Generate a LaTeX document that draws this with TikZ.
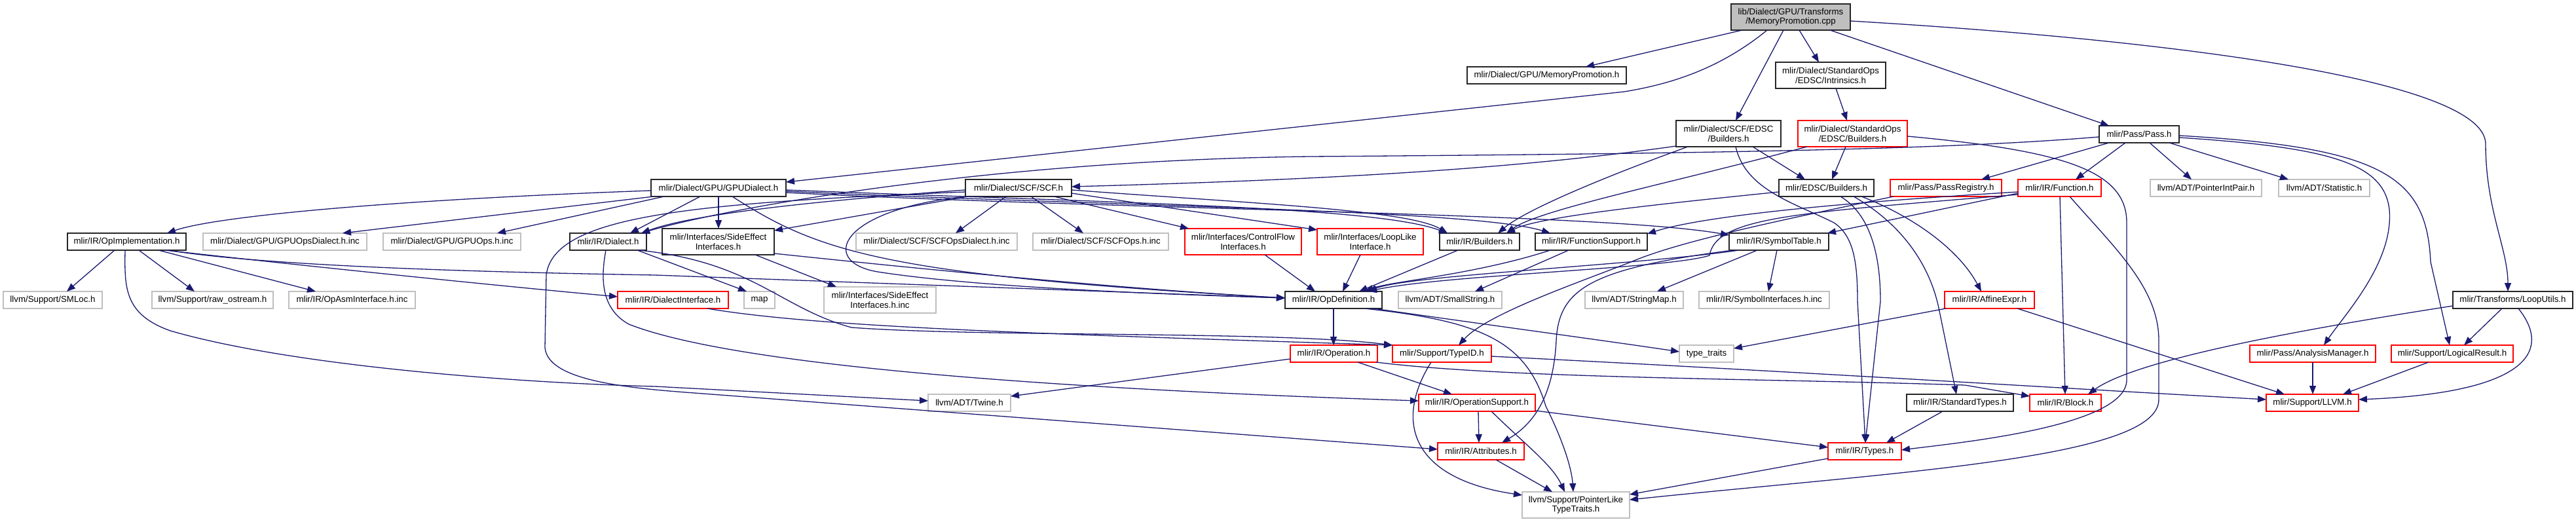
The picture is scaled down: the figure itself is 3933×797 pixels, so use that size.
\documentclass[tikz,border=0pt]{standalone}
\usepackage{fontspec}
\setmainfont{Liberation Sans}
\usetikzlibrary{arrows.meta}
\definecolor{edgeblue}{RGB}{25,25,112}
\definecolor{dgrey}{RGB}{191,191,191}
\definecolor{nred}{RGB}{255,0,0}
\tikzset{
  nd/.style={draw=black!85, line width=1.4pt, fill=white, anchor=north west, inner sep=0pt, outer sep=0pt,
    align=center, font=\fontsize{13.3}{14.5}\selectfont, text=black, minimum height=26pt},
  tall/.style={minimum height=40pt},
  ndred/.style={nd, draw=nred},
  ndgrey/.style={nd, draw=dgrey},
  ndroot/.style={nd, fill=dgrey},
  lk/.style={draw=edgeblue, line width=1.3pt, -{Triangle[length=13pt,width=10pt]}},
}
\begin{document}
\begin{tikzpicture}[x=1pt,y=-1pt]
\fill[white] (0,0) rectangle (3933,797);
\useasboundingbox (0,0) rectangle (3933,797);

% ---------- nodes ----------
\node[ndroot, tall, minimum width=182pt] (root) at (2643,6) {lib/Dialect/GPU/Transforms\\/MemoryPromotion.cpp};
\node[nd, minimum width=243pt] (mp) at (2240,102) {mlir/Dialect/GPU/MemoryPromotion.h};
\node[nd, tall, minimum width=168pt] (intr) at (2711,95) {mlir/Dialect/StandardOps\\/EDSC/Intrinsics.h};
\node[nd, tall, minimum width=160pt] (scfedsc) at (2559,184) {mlir/Dialect/SCF/EDSC\\/Builders.h};
\node[ndred, tall, minimum width=167pt] (stdedsc) at (2745,184) {mlir/Dialect/StandardOps\\/EDSC/Builders.h};
\node[nd, minimum width=122pt] (pass) at (3205,192) {mlir/Pass/Pass.h};
\node[nd, minimum width=206pt] (gpud) at (994,274) {mlir/Dialect/GPU/GPUDialect.h};
\node[nd, minimum width=162pt] (scf) at (1474,274) {mlir/Dialect/SCF/SCF.h};
\node[nd, minimum width=145pt] (edscb) at (2716,274) {mlir/EDSC/Builders.h};
\node[ndred, minimum width=170pt] (passreg) at (2886,274) {mlir/Pass/PassRegistry.h};
\node[ndred, minimum width=127pt] (func) at (3081,274) {mlir/IR/Function.h};
\node[ndgrey, minimum width=170pt] (pip) at (3283,274) {llvm/ADT/PointerIntPair.h};
\node[ndgrey, minimum width=139pt] (stat) at (3479,274) {llvm/ADT/Statistic.h};
\node[nd, minimum width=181pt] (opimpl) at (103,356) {mlir/IR/OpImplementation.h};
\node[ndgrey, minimum width=250pt] (gpuod) at (310,356) {mlir/Dialect/GPU/GPUOpsDialect.h.inc};
\node[ndgrey, minimum width=210pt] (gpuops) at (585,356) {mlir/Dialect/GPU/GPUOps.h.inc};
\node[nd, minimum width=117pt] (dialect) at (870,356) {mlir/IR/Dialect.h};
\node[nd, tall, minimum width=171pt] (sei) at (1011,349) {mlir/Interfaces/SideEffect\\Interfaces.h};
\node[ndgrey, minimum width=246pt] (scfod) at (1307,356) {mlir/Dialect/SCF/SCFOpsDialect.h.inc};
\node[ndgrey, minimum width=207pt] (scfops) at (1577,356) {mlir/Dialect/SCF/SCFOps.h.inc};
\node[ndred, tall, minimum width=178pt] (cfi) at (1809,349) {mlir/Interfaces/ControlFlow\\Interfaces.h};
\node[ndred, tall, minimum width=162pt] (lli) at (2011,349) {mlir/Interfaces/LoopLike\\Interface.h};
\node[nd, minimum width=122pt] (irb) at (2198,356) {mlir/IR/Builders.h};
\node[nd, minimum width=171pt] (fsup) at (2344,356) {mlir/IR/FunctionSupport.h};
\node[nd, minimum width=152pt] (symt) at (2640,356) {mlir/IR/SymbolTable.h};
\node[ndgrey, minimum width=151pt] (smloc) at (5,445) {llvm/Support/SMLoc.h};
\node[ndgrey, minimum width=185pt] (rawos) at (232,445) {llvm/Support/raw\_ostream.h};
\node[ndgrey, minimum width=193pt] (opasm) at (441,445) {mlir/IR/OpAsmInterface.h.inc};
\node[ndred, minimum width=169pt] (diaint) at (943,445) {mlir/IR/DialectInterface.h};
\node[ndgrey, minimum width=47pt] (map) at (1136,445) {map};
\node[ndgrey, tall, minimum width=171pt] (seiinc) at (1258,438) {mlir/Interfaces/SideEffect\\Interfaces.h.inc};
\node[nd, minimum width=148pt] (opdef) at (1962,445) {mlir/IR/OpDefinition.h};
\node[ndgrey, minimum width=158pt] (smallstr) at (2135,445) {llvm/ADT/SmallString.h};
\node[ndgrey, minimum width=150pt] (strmap) at (2420,445) {llvm/ADT/StringMap.h};
\node[ndgrey, minimum width=199pt] (syminc) at (2594,445) {mlir/IR/SymbolInterfaces.h.inc};
\node[ndred, minimum width=137pt] (affine) at (2969,445) {mlir/IR/AffineExpr.h};
\node[nd, minimum width=183pt] (loopu) at (3745,445) {mlir/Transforms/LoopUtils.h};
\node[ndred, minimum width=133pt] (oper) at (1970,527) {mlir/IR/Operation.h};
\node[ndred, minimum width=151pt] (typeid) at (2126,527) {mlir/Support/TypeID.h};
\node[ndgrey, minimum width=83pt] (ttraits) at (2564,527) {type\_traits};
\node[ndred, minimum width=192pt] (anam) at (3435,527) {mlir/Pass/AnalysisManager.h};
\node[ndred, minimum width=186pt] (logres) at (3651,527) {mlir/Support/LogicalResult.h};
\node[ndgrey, minimum width=126pt] (twine) at (1417,602) {llvm/ADT/Twine.h};
\node[ndred, minimum width=178pt] (opsup) at (2166,602) {mlir/IR/OperationSupport.h};
\node[nd, minimum width=163pt] (stdtypes) at (2911,602) {mlir/IR/StandardTypes.h};
\node[ndred, minimum width=109pt] (block) at (3099,602) {mlir/IR/Block.h};
\node[ndred, minimum width=141pt] (llvm) at (3460,602) {mlir/Support/LLVM.h};
\node[ndred, minimum width=132pt] (attr) at (2195,676) {mlir/IR/Attributes.h};
\node[ndred, minimum width=112pt] (types) at (2791,676) {mlir/IR/Types.h};
\node[ndgrey, tall, minimum width=164pt] (plt) at (2324,751) {llvm/Support/PointerLike\\TypeTraits.h};

% ---------- edges ----------
% root
\draw[lk] ([xshift=17pt]root.south west) -- ([xshift=181pt]mp.north west);
\draw[lk] ([xshift=55pt]root.south west) .. controls (2620,110) and (2540,130) .. (2480,140) -- ([yshift=-4pt]gpud.north east);
\draw[lk] ([xshift=80pt]root.south west) -- ([xshift=91pt]scfedsc.north west);
\draw[lk] ([xshift=104pt]root.south west) -- ([xshift=66pt]intr.north west);
\draw[lk] ([xshift=151pt]root.south west) -- ([xshift=15pt]pass.north west);
\draw[lk] ([yshift=-26pt]root.north east) .. controls (3300,60) and (3795,120) .. (3795,220) .. controls (3795,320) and (3829,380) .. ([xshift=84pt]loopu.north west);
% GPUDialect
\draw[lk] ([yshift=-17pt]gpud.north west) .. controls (600,305) and (330,330) .. ([xshift=152pt]opimpl.north west);
\draw[lk] ([xshift=4pt]gpud.south west) -- ([xshift=213pt]gpuod.north west);
\draw[lk] ([xshift=20pt]gpud.south west) -- ([xshift=174pt]gpuops.north west);
\draw[lk] ([xshift=75pt]gpud.south west) -- ([xshift=92pt]dialect.north west);
\draw[lk] ([xshift=103pt]gpud.south west) -- ([xshift=86pt]sei.north west);
\draw[lk] ([xshift=124pt]gpud.south west) .. controls (1250,385) and (1350,420) .. ([yshift=-10pt]opdef.north west);
\draw[lk] ([yshift=-16pt]gpud.north east) .. controls (1700,310) and (2100,315) .. ([xshift=12pt]irb.north west);
\draw[lk] ([yshift=-18pt]gpud.north east) .. controls (1700,315) and (2250,320) .. ([xshift=23pt]fsup.north west);
\draw[lk] ([yshift=-20pt]gpud.north east) .. controls (1700,320) and (2450,325) .. ([yshift=-3pt]symt.north west);
% SCF.h
\draw[lk] ([xshift=62pt]scf.south west) -- ([xshift=152pt]scfod.north west);
\draw[lk] ([xshift=100pt]scf.south west) -- ([xshift=77pt]scfops.north west);
\draw[lk] ([xshift=135pt]scf.south west) -- ([xshift=6pt]cfi.north west);
\draw[lk] ([yshift=-21pt]scf.north east) -- ([yshift=-2pt]lli.north west);
\draw[lk] ([xshift=4pt]scf.south west) -- ([yshift=-3pt]sei.north east);
\draw[lk] ([yshift=-16pt]scf.north west) .. controls (1200,310) and (1050,330) .. ([xshift=109pt]dialect.north west);
\draw[lk] ([xshift=1pt]scf.south west) .. controls (1280,320) and (1250,400) .. (1340,415) .. controls (1500,440) and (1800,450) .. ([yshift=-10pt]opdef.north west);
\draw[lk] ([yshift=-19pt]scf.north west) .. controls (1050,310) and (845,330) .. (834,420) -- (832,530) .. controls (835,580) and (950,592) .. (1060,600) -- ([yshift=-10pt]attr.north west);
\draw[lk] ([yshift=-16pt]scf.north east) .. controls (1900,310) and (2150,320) .. ([xshift=12pt]irb.north west);
% SCF/EDSC/Builders.h
\draw[lk] ([yshift=1pt]scfedsc.south west) .. controls (2300,260) and (2000,275) .. ([yshift=-11pt]scf.north east);
\draw[lk] ([xshift=117pt]scfedsc.south west) -- ([xshift=40pt]edscb.north west);
\draw[lk] ([xshift=18pt]scfedsc.south west) .. controls (2450,270) and (2330,320) .. ([xshift=89pt]irb.north west);
\draw[lk] ([xshift=91pt]scfedsc.south west) .. controls (2665,290) and (2740,310) .. (2800,340) .. controls (2830,360) and (2836,400) .. (2836,460) -- ([xshift=57pt]types.north west);
% Intrinsics / StandardOps EDSC
\draw[lk] ([xshift=92pt]intr.south west) -- ([xshift=75pt]stdedsc.north west);
\draw[lk] ([xshift=73pt]stdedsc.south west) -- ([xshift=81pt]edscb.north west);
\draw[lk] ([xshift=14pt]stdedsc.south west) .. controls (2550,280) and (2350,320) .. ([xshift=102pt]irb.north west);
\draw[lk] ([yshift=-24pt]stdedsc.north east) .. controls (3150,230) and (3247,260) .. (3247,340) -- (3247,580) .. controls (3247,650) and (3000,675) .. ([yshift=-11pt]types.north east);
% EDSC/Builders.h
\draw[lk] ([yshift=-19pt]edscb.north west) .. controls (2550,310) and (2350,330) .. ([xshift=102pt]irb.north west);
\draw[lk] ([xshift=94pt]edscb.south west) .. controls (2860,330) and (2871,400) .. (2871,460) -- ([xshift=57pt]types.north west);
\draw[lk] ([xshift=114pt]edscb.south west) .. controls (2900,340) and (2945,400) .. (2960,470) -- ([xshift=76pt]stdtypes.north west);
\draw[lk] ([xshift=126pt]edscb.south west) .. controls (2920,330) and (2990,380) .. ([xshift=56pt]affine.north west);
% Pass.h
\draw[lk] ([xshift=15pt]pass.south west) -- ([xshift=139pt]passreg.north west);
\draw[lk] ([xshift=40pt]pass.south west) -- ([xshift=88pt]func.north west);
\draw[lk] ([xshift=77pt]pass.south west) -- ([xshift=63pt]pip.north west);
\draw[lk] ([xshift=107pt]pass.south west) -- ([xshift=15pt]stat.north west);
\draw[lk] ([yshift=-18pt]pass.north east) .. controls (3560,225) and (3640,250) .. (3648,320) .. controls (3655,400) and (3580,480) .. ([xshift=113pt]anam.north west);
\draw[lk] ([yshift=-15pt]pass.north east) .. controls (3640,225) and (3705,270) .. (3711,400) -- ([xshift=89pt]logres.north west);
\draw[lk] ([yshift=-17pt]pass.north west) .. controls (3000,226) and (2700,234) .. (2000,239) .. controls (1500,245) and (1100,320) .. ([xshift=109pt]dialect.north west);
% PassRegistry.h
\draw[lk] ([xshift=5pt]passreg.south west) .. controls (2700,340) and (2560,370) .. (2490,400) .. controls (2400,435) and (2270,480) .. ([xshift=101pt]typeid.north west);
% Function.h
\draw[lk] ([yshift=-19pt]func.north west) .. controls (2800,310) and (2600,330) .. ([yshift=-1pt]fsup.north east);
\draw[lk] ([yshift=-21pt]func.north west) -- ([xshift=-2pt]symt.north east);
\draw[lk] ([yshift=-23pt]func.north west) .. controls (2750,325) and (2620,330) .. (2610,390) .. controls (2550,410) and (2200,420) .. ([xshift=127pt]opdef.north west);
\draw[lk] ([xshift=64pt]func.south west) -- ([xshift=54pt]block.north west);
\draw[lk] ([xshift=79pt]func.south west) .. controls (3230,380) and (3296,440) .. (3296,520) -- (3296,610) .. controls (3296,700) and (2900,720) .. ([yshift=-12pt]plt.north east);
% LoopUtils.h
\draw[lk] ([yshift=-22pt]loopu.north west) .. controls (3500,505) and (3260,550) .. ([xshift=89pt]block.north west);
\draw[lk] ([xshift=75pt]loopu.south west) -- ([xshift=111pt]logres.north west);
\draw[lk] ([xshift=100pt]loopu.south west) .. controls (3900,540) and (3850,600) .. ([yshift=-8pt]llvm.north east);
% OpImplementation.h
\draw[lk] ([xshift=72pt]opimpl.south west) -- ([xshift=97pt]smloc.north west);
\draw[lk] ([xshift=109pt]opimpl.south west) -- ([xshift=65pt]rawos.north west);
\draw[lk] ([xshift=139pt]opimpl.south west) -- ([xshift=41pt]opasm.north west);
\draw[lk] ([xshift=149pt]opimpl.south west) .. controls (500,410) and (800,440) .. ([yshift=-8pt]diaint.north west);
\draw[lk] ([xshift=153pt]opimpl.south west) .. controls (400,405) and (700,415) .. (1000,420) -- ([yshift=-10pt]opdef.north west);
\draw[lk] ([xshift=88pt]opimpl.south west) .. controls (190,440) and (190,480) .. (260,505) .. controls (450,560) and (800,585) .. (1000,590) -- ([yshift=-10pt]twine.north west);
% Dialect.h
\draw[lk] ([xshift=103pt]dialect.south west) -- ([xshift=4pt]map.north west);
\draw[lk] ([xshift=55pt]dialect.south west) .. controls (918,420) and (915,470) .. (960,495) .. controls (1100,550) and (1500,590) .. ([yshift=-10pt]opsup.north west);
\draw[lk] ([xshift=105pt]dialect.south west) .. controls (1150,400) and (1190,470) .. (1300,500) .. controls (1500,515) and (1950,505) .. (typeid.north west);
\draw[lk] ([xshift=137pt]diaint.south west) .. controls (1250,500) and (1600,510) .. (typeid.north west);
% interfaces
\draw[lk] ([xshift=142pt]sei.south west) -- ([xshift=19pt]seiinc.north west);
\draw[lk] ([yshift=2pt]sei.south east) .. controls (1400,410) and (1700,440) .. ([yshift=-10pt]opdef.north west);
\draw[lk] ([xshift=122pt]cfi.south west) -- ([xshift=46pt]opdef.north west);
\draw[lk] ([xshift=66pt]lli.south west) -- ([xshift=88pt]opdef.north west);
\draw[lk] ([xshift=28pt]irb.south west) -- ([xshift=113pt]opdef.north west);
\draw[lk] ([xshift=23pt]fsup.south west) .. controls (2250,420) and (2120,430) .. ([xshift=122pt]opdef.north west);
\draw[lk] ([xshift=51pt]fsup.south west) -- ([xshift=117pt]smallstr.north west);
% SymbolTable.h
\draw[lk] ([xshift=15pt]symt.south west) .. controls (2500,405) and (2150,420) .. ([xshift=127pt]opdef.north west);
\draw[lk] ([xshift=43pt]symt.south west) -- ([xshift=110pt]strmap.north west);
\draw[lk] ([xshift=73pt]symt.south west) -- ([xshift=106pt]syminc.north west);
\draw[lk] ([xshift=6pt]symt.south west) .. controls (2430,410) and (2380,440) .. (2376,520) .. controls (2372,600) and (2345,645) .. ([xshift=98pt]attr.north west);
% OpDefinition.h
\draw[lk] ([xshift=74pt]opdef.south west) -- ([xshift=66pt]oper.north west);
\draw[lk] ([xshift=135pt]opdef.south west) .. controls (2300,500) and (2450,520) .. ([yshift=-10pt]ttraits.north west);
\draw[lk] ([xshift=121pt]opdef.south west) .. controls (2260,490) and (2330,520) .. (2360,620) .. controls (2390,680) and (2400,720) .. ([xshift=78pt]plt.north west);
% AffineExpr.h
\draw[lk] ([xshift=2pt]affine.south west) -- ([yshift=-5pt]ttraits.north east);
\draw[lk] ([xshift=111pt]affine.south west) -- ([xshift=28pt]llvm.north west);
% Operation.h
\draw[lk] ([xshift=103pt]oper.south west) -- ([xshift=51pt]opsup.north west);
\draw[lk] ([xshift=-2pt]oper.south east) .. controls (2300,578) and (2700,578) .. (3000,588) -- ([yshift=-3pt]block.north west);
\draw[lk] ([yshift=-21pt]oper.north west) -- ([yshift=-3pt]twine.north east);
% TypeID.h
\draw[lk] ([yshift=-17pt]typeid.north east) .. controls (2700,565) and (3100,590) .. ([yshift=-8pt]llvm.north west);
\draw[lk] ([xshift=59pt]typeid.south west) .. controls (2130,640) and (2150,730) .. ([yshift=-5pt]plt.north west);
% OperationSupport.h
\draw[lk] ([xshift=91pt]opsup.south west) -- ([xshift=63pt]attr.north west);
\draw[lk] ([xshift=111pt]opsup.south west) .. controls (2330,680) and (2370,710) .. ([xshift=65pt]plt.north west);
\draw[lk] ([yshift=1pt]opsup.south east) -- ([yshift=-7pt]types.north west);
% bottom
\draw[lk] ([xshift=89pt]attr.south west) -- ([xshift=46pt]plt.north west);
\draw[lk] ([yshift=2pt]types.south west) -- ([yshift=-4pt]plt.north east);
\draw[lk] ([xshift=55pt]stdtypes.south west) -- ([xshift=89pt]types.north west);
\draw[lk] ([xshift=96pt]anam.south west) -- ([xshift=71pt]llvm.north west);
\draw[lk] ([xshift=57pt]logres.south west) -- ([xshift=117pt]llvm.north west);
\end{tikzpicture}
\end{document}
